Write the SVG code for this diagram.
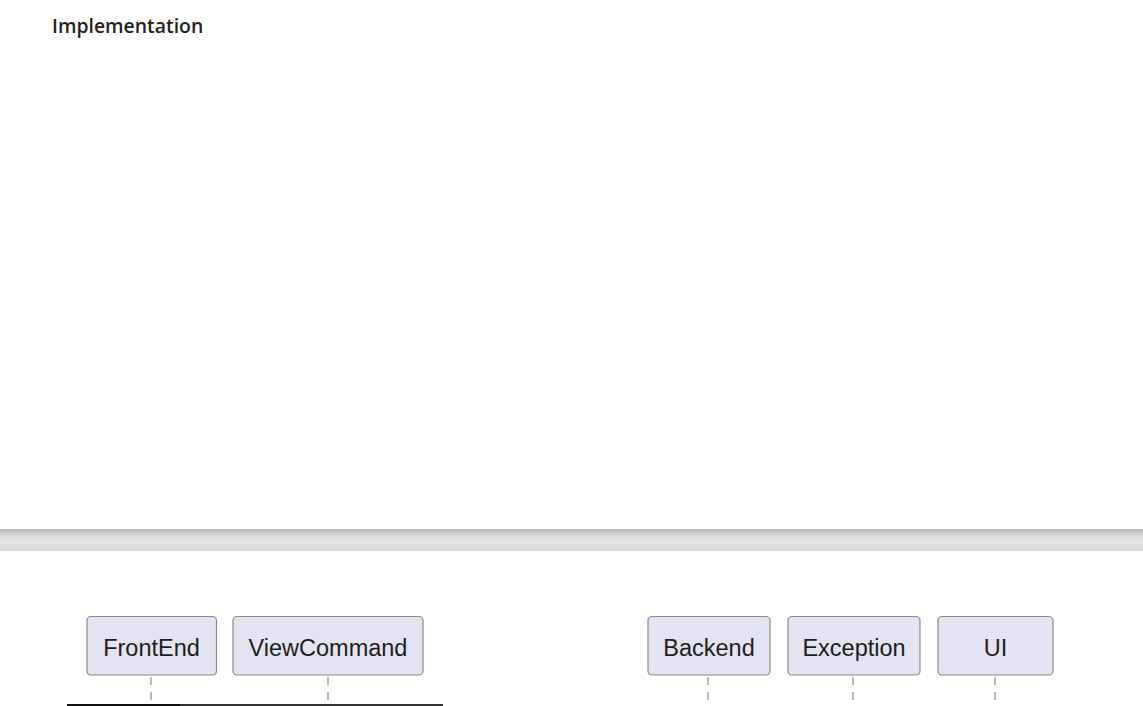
<svg xmlns="http://www.w3.org/2000/svg" width="1143" height="706" viewBox="0 0 1143 706">
<defs>
<linearGradient id="band" x1="0" y1="0" x2="0" y2="1">
<stop offset="0" stop-color="#b9b9b9"/>
<stop offset="0.3" stop-color="#d9d9d9"/>
<stop offset="0.6" stop-color="#e6e6e6"/>
<stop offset="1" stop-color="#d6d6d6"/>
</linearGradient>
</defs>
<style>
.box{fill:#e3e3f1;stroke:#8a8a8a;stroke-width:1.2}
.lbl{font-family:"Liberation Sans",Arial,sans-serif;font-size:23.5px;fill:#1e1e1e;text-anchor:middle}
.life{stroke:#8c8c8c;stroke-width:1.2;stroke-dasharray:8,7;fill:none}
.title{font-family:"Open Sans","Noto Sans",sans-serif;font-weight:600;font-size:19.4px;fill:#222}
</style>
<rect width="1143" height="706" fill="#ffffff"/>
<text class="title" x="52" y="33">Implementation</text>
<rect x="0" y="529" width="1143" height="22" fill="url(#band)"/>
<g id="connectors">
<line class="life" x1="151" y1="677" x2="151" y2="706"/>
<line class="life" x1="328" y1="677" x2="328" y2="706"/>
<line class="life" x1="708" y1="677" x2="708" y2="706"/>
<line class="life" x1="853" y1="677" x2="853" y2="706"/>
<line class="life" x1="995" y1="677" x2="995" y2="706"/>
<rect x="67" y="704" width="376" height="2" fill="#333"/>
<rect x="67" y="704" width="113" height="2" fill="#111"/>
</g>
<g id="FrontEnd"><rect class="box" x="87" y="616.5" width="129.5" height="58.5" rx="4"/><text class="lbl" x="151.5" y="656">FrontEnd</text></g>
<g id="ViewCommand"><rect class="box" x="233" y="616.5" width="190" height="58.5" rx="4"/><text class="lbl" x="328" y="656">ViewCommand</text></g>
<g id="Backend"><rect class="box" x="648" y="616.5" width="122" height="58.5" rx="4"/><text class="lbl" x="709" y="656">Backend</text></g>
<g id="Exception"><rect class="box" x="788" y="616.5" width="132" height="58.5" rx="4"/><text class="lbl" x="854" y="656">Exception</text></g>
<g id="UI"><rect class="box" x="938" y="616.5" width="115" height="58.5" rx="4"/><text class="lbl" x="995.5" y="656">UI</text></g>
</svg>
